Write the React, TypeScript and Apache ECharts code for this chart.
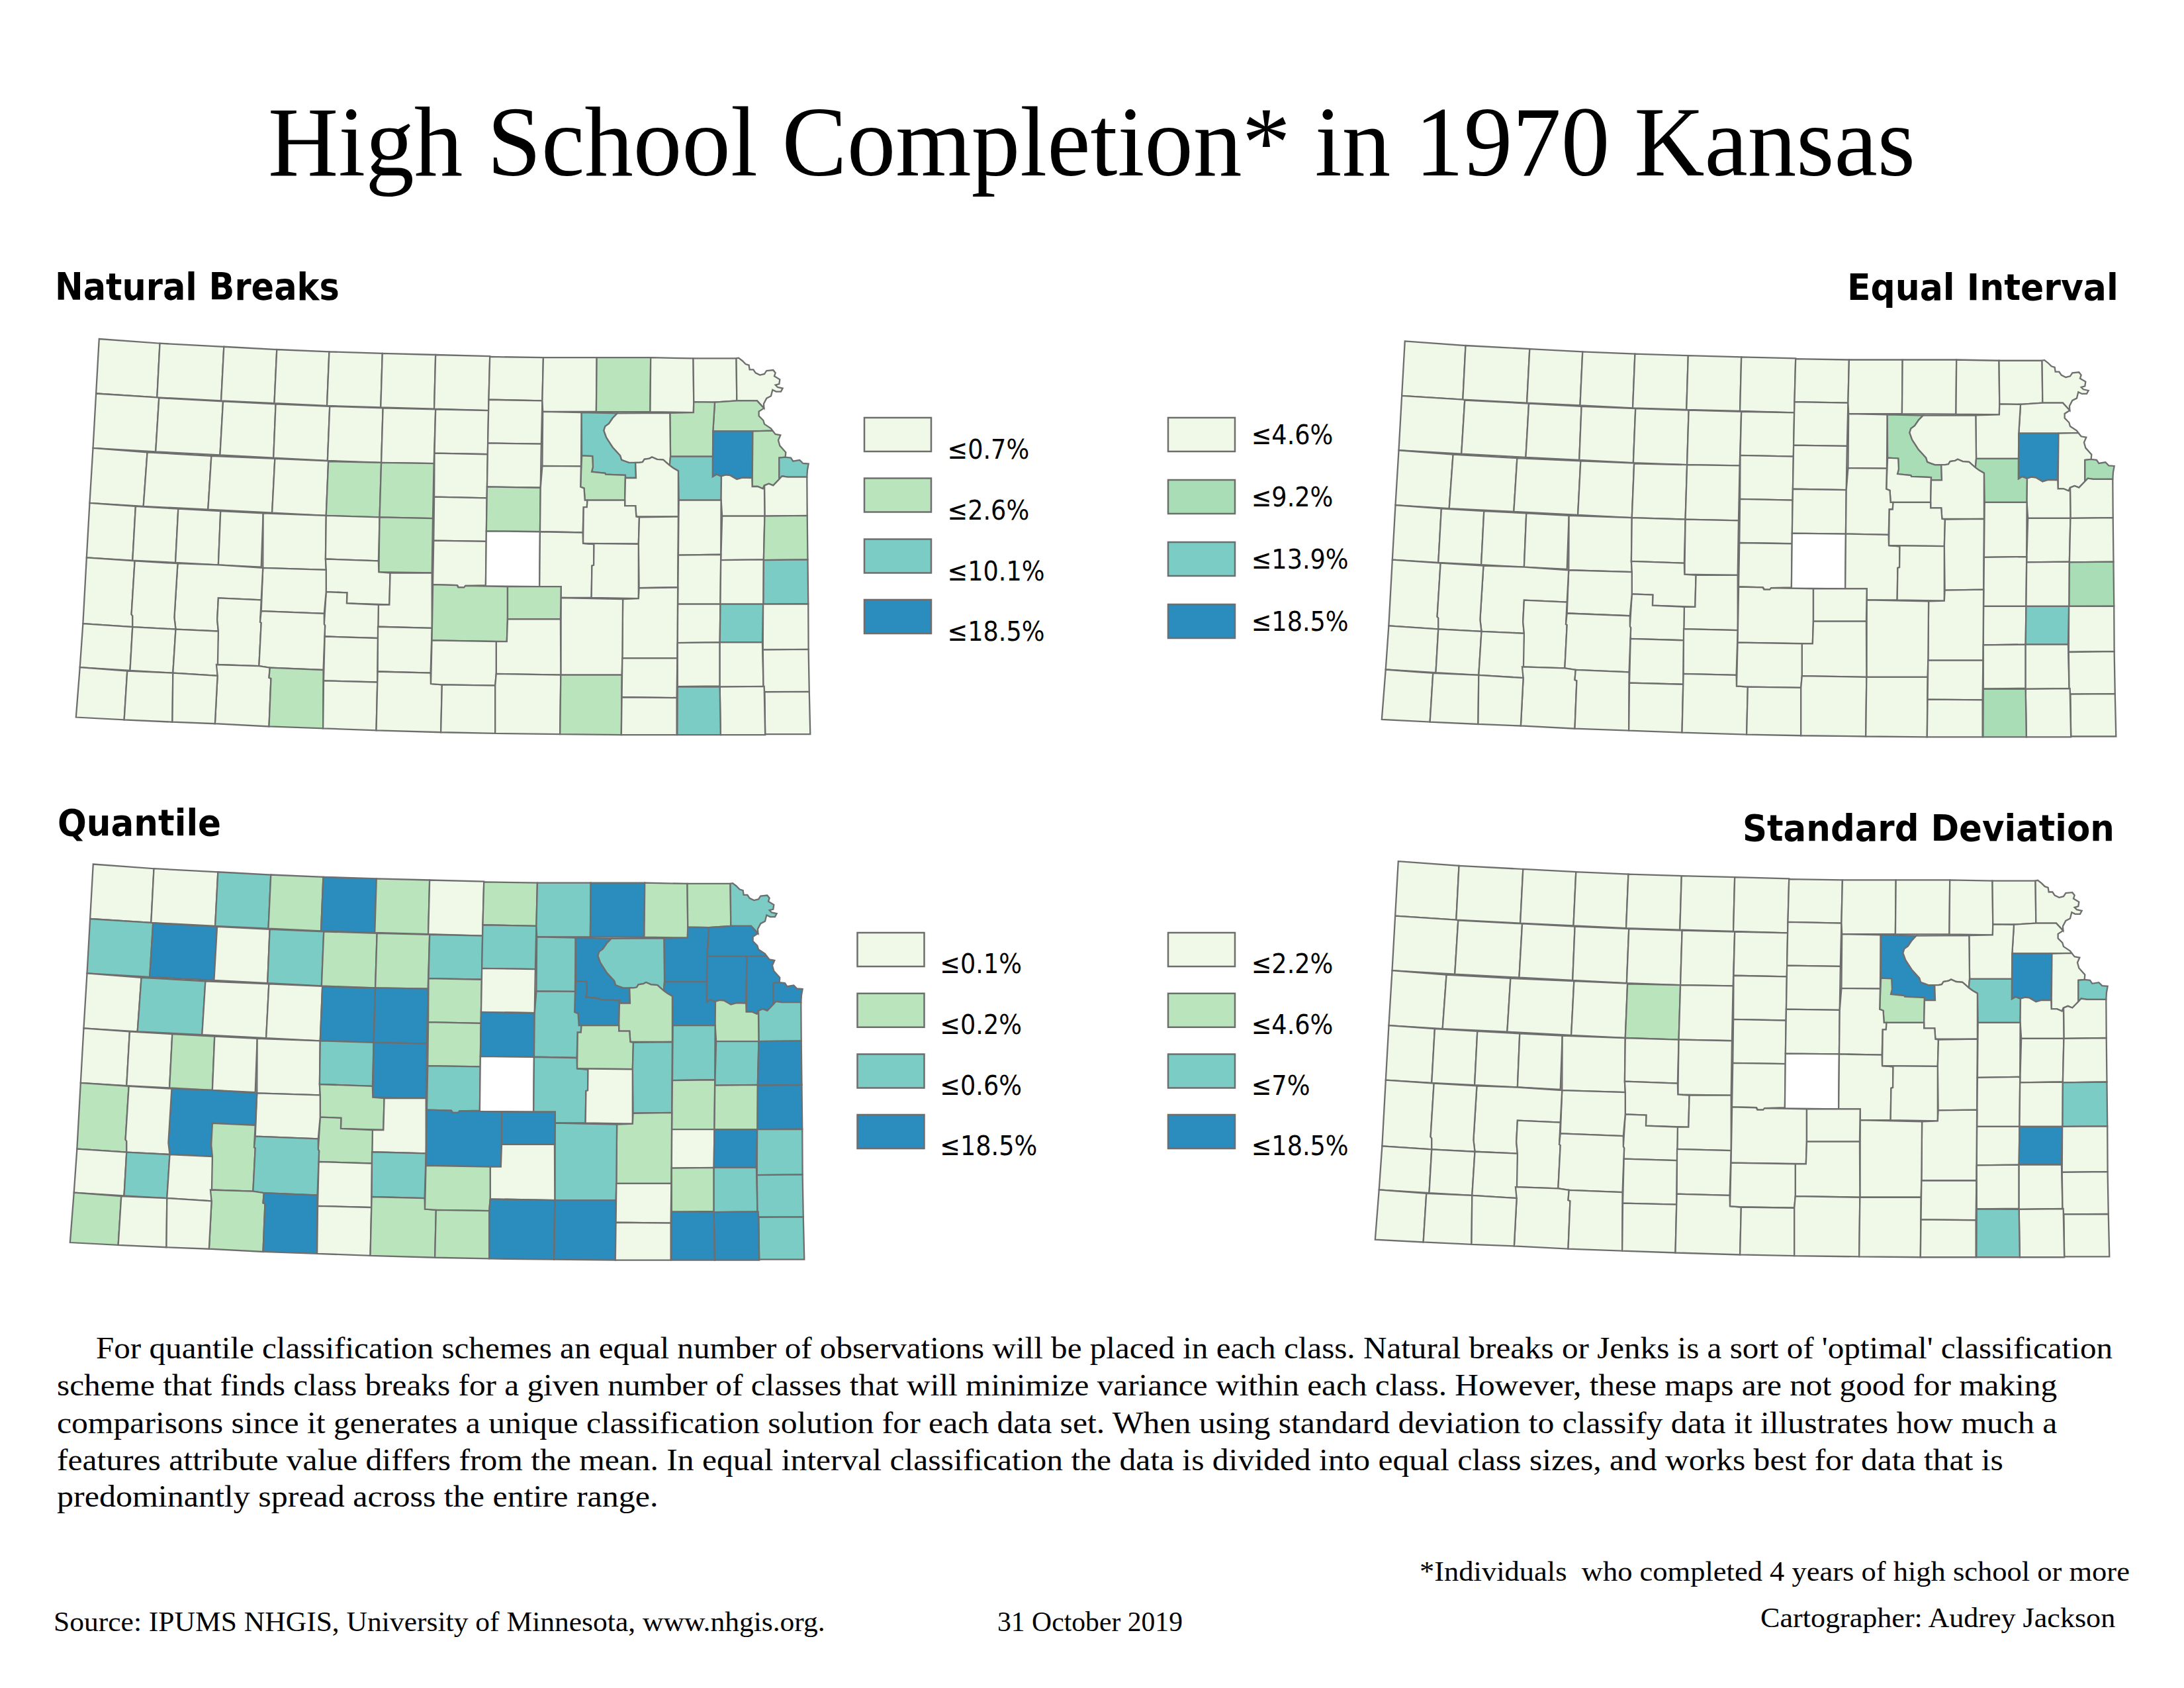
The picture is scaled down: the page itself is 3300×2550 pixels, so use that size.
import React, { useEffect, useRef } from "react";
import * as echarts from "echarts";

type P = number[];

// Palette of the four classes (ColorBrewer GnBu as used in the maps)
const classColors = ["#f0f9e8", "#bae4bc", "#7bccc4", "#2b8cbe"];
const equalIntervalColors = ["#f0f9e8", "#a8ddb5", "#7bccc4", "#2b8cbe"];

// Class membership read from each map. Any county not named is class 0; McPherson has no data.
const noData = ["McPherson"];
const naturalClass1 = ["Marshall", "Jackson", "Atchison", "Leavenworth", "Geary", "Ellis", "Russell", "Barton", "Saline", "Harvey", "Reno", "Cowley", "Clark", "Miami"];
const naturalClass2 = ["Riley", "Shawnee", "Wyandotte", "Linn", "Allen", "Montgomery"];
const naturalClass3 = ["Jefferson"];
const equalClass1 = ["Riley", "Shawnee", "Wyandotte", "Linn", "Montgomery"];
const equalClass2 = ["Allen"];
const equalClass3 = ["Jefferson"];
const stdevClass1 = ["Ellis", "Geary"];
const stdevClass2 = ["Shawnee", "Wyandotte", "Linn", "Montgomery"];
const stdevClass3 = ["Riley", "Jefferson", "Allen"];
const quantileClass1 = ["Norton", "Smith", "Rooks", "Osborne", "Lincoln", "Ellsworth", "Scott", "Pawnee", "Edwards", "Hamilton", "Gray", "Meade", "Barber", "Harper", "Morton", "Republic", "Nemaha", "Brown", "Wabaunsee", "Douglas", "Morris", "Coffey", "Anderson", "Greenwood", "Kingman", "Wilson"];
const quantileClass2 = ["Decatur", "Sherman", "Graham", "Mitchell", "Rice", "Logan", "Rush", "Ford", "Grant", "Pratt", "Washington", "Doniphan", "Cloud", "Clay", "Pottawatomie", "Johnson", "Dickinson", "Lyon", "Osage", "Franklin", "Marion", "Butler", "Bourbon", "Neosho", "Crawford", "Cherokee"];
const quantileClass3 = ["Phillips", "Thomas", "Ellis", "Russell", "Barton", "Finney", "Clark", "Marshall", "Riley", "Jackson", "Atchison", "Jefferson", "Leavenworth", "Wyandotte", "Geary", "Shawnee", "Saline", "Miami", "Linn", "Reno", "Harvey", "Sumner", "Cowley", "Allen", "Montgomery", "Labette"];

// Legend labels
const naturalLabels = ["≤0.7%", "≤2.6%", "≤10.1%", "≤18.5%"];
const equalLabels = ["≤4.6%", "≤9.2%", "≤13.9%", "≤18.5%"];
const quantileLabels = ["≤0.1%", "≤0.2%", "≤0.6%", "≤18.5%"];
const stdevLabels = ["≤2.2%", "≤4.6%", "≤7%", "≤18.5%"];

// Map geometry — western counties
const westRings: Record<string, P[]> = {
  Cheyenne: [[142,76],[360,92],[350,286],[131,272]],
  Rawlins: [[360,92],[590,104],[580,298],[350,286]],
  Decatur: [[590,104],[780,114],[771,307],[580,298]],
  Norton: [[780,114],[968,122],[960,316],[771,307]],
  Phillips: [[968,122],[1159,128],[1153,322],[960,316]],
  Smith: [[1159,128],[1350,133],[1345,327],[1153,322]],
  Jewell: [[1350,133],[1545,138],[1540,333],[1345,327]],
  Sherman: [[131,272],[350,286],[357,288],[345,481],[120,468]],
  Thomas: [[357,288],[587,300],[576,493],[345,481]],
  Sheridan: [[587,300],[776,310],[768,503],[576,493]],
  Graham: [[776,310],[970,318],[962,513],[768,503]],
  Rooks: [[970,318],[1161,324],[1155,520],[962,513]],
  Osborne: [[1161,324],[1350,329],[1344,523],[1155,520]],
  Mitchell: [[1350,329],[1540,333],[1537,490],[1346,486]],
  Lincoln: [[1346,486],[1537,490],[1534,647],[1345,643]],
  Ellsworth: [[1345,643],[1534,647],[1532,803],[1343,800]],
  Rice: [[1343,800],[1532,803],[1530,960],[1458,962],[1455,968],[1433,968],[1428,960],[1340,958]],
  Wallace: [[120,468],[315,483],[301,677],[108,665]],
  Logan: [[315,483],[545,496],[533,688],[301,677]],
  Gove: [[545,496],[773,506],[763,700],[533,688]],
  Trego: [[773,506],[965,514],[957,710],[763,700]],
  Ellis: [[965,516],[1155,520],[1149,716],[957,710]],
  Russell: [[1155,520],[1344,523],[1340,720],[1149,716]],
  Greeley: [[108,665],[273,677],[262,871],[97,861]],
  Wichita: [[273,677],[426,686],[416,879],[262,871]],
  Scott: [[426,686],[578,694],[570,887],[416,879]],
  Lane: [[578,694],[731,702],[724,895],[570,887]],
  Ness: [[731,702],[957,710],[955,866],[957,905],[730,898]],
  Rush: [[957,710],[1149,716],[1145,873],[955,866]],
  Barton: [[1149,716],[1340,720],[1337,916],[1146,913]],
  Pawnee: [[955,866],[1145,873],[1146,913],[1187,916],[1184,1030],[1031,1025],[1032,987],[957,984],[957,905]],
  Stafford: [[1187,916],[1337,916],[1337,1114],[1143,1109],[1145,1030],[1184,1030]],
  Edwards: [[957,984],[1032,987],[1031,1025],[1145,1030],[1143,1150],[952,1144],[953,1105],[950,1100]],
  Hodgeman: [[730,898],[957,905],[957,984],[950,1062],[724,1053]],
  Finney: [[424,882],[570,887],[730,898],[724,1013],[570,1006],[566,1084],[570,1125],[417,1118],[412,1076]],
  Hamilton: [[97,861],[270,873],[258,1065],[262,1070],[262,1110],[84,1098]],
  Kearny: [[270,873],[424,882],[412,1076],[417,1118],[262,1110],[262,1070],[258,1065]],
  Gray: [[570,1006],[724,1013],[720,1092],[724,1095],[716,1250],[563,1245],[570,1125],[566,1084]],
  Ford: [[724,1053],[950,1062],[950,1100],[953,1105],[947,1264],[755,1256],[716,1250],[724,1095],[720,1092]],
  Stanton: [[84,1098],[262,1110],[253,1266],[73,1255]],
  Grant: [[262,1110],[417,1118],[407,1275],[253,1266]],
  Haskell: [[417,1118],[570,1125],[567,1285],[407,1275]],
  Meade: [[563,1245],[716,1250],[755,1256],[752,1292],[759,1295],[752,1467],[558,1457],[567,1285]],
  Clark: [[755,1256],[947,1264],[946,1474],[752,1467],[759,1295],[752,1292]],
  Morton: [[73,1255],[243,1268],[232,1443],[59,1434]],
  Stevens: [[243,1268],[407,1275],[405,1451],[232,1443]],
  Seward: [[407,1275],[567,1285],[558,1457],[405,1451]],
  Kiowa: [[952,1144],[1143,1150],[1141,1308],[948,1303]],
  Comanche: [[948,1303],[1141,1308],[1137,1481],[946,1474]],
  Pratt: [[1143,1109],[1337,1114],[1332,1275],[1142,1270]],
  Barber: [[1142,1270],[1332,1275],[1333,1314],[1373,1317],[1369,1488],[1137,1481]],
};

// River boundaries shared between eastern counties
const fromCrop = ([x, y]: P) => [1019 + 0.871 * x, 95 + 0.792 * y];
const bigBlue: P[] = [[608,343],[590,360],[575,380],[560,390],[555,405],[565,430],[578,448],[590,465],[605,480],[620,495],[625,510],[640,515],[655,520],[680,520]];
const kansasRiver: P[] = [[680,520],[695,520],[708,518],[715,508],[735,505],[745,500],[765,508],[790,510],[800,518],[815,530],[830,540],[849,550]];
const jeffersonSouth: P[] = [[985,570],[1000,562],[1019,569],[1036,564],[1054,566],[1080,580],[1102,574],[1140,575]];
const leavenworthSouthA: P[] = [[140,645],[165,645],[188,655],[195,640]].map(fromCrop);
const leavenworthSouthB: P[] = [[195,640],[215,632],[235,640],[262,612]].map(fromCrop);
const wyandotteSouth: P[] = [[262,612],[275,598],[300,602],[388,602]].map(fromCrop);
const missouriDoniphan: P[] = [[78,62],[95,75],[110,90],[125,95],[128,115],[145,115],[155,130],[175,140],[195,135],[205,120],[235,117],[245,130],[240,145],[265,160],[262,180],[245,185],[255,195],[278,200],[270,215],[248,215],[232,207],[225,235],[205,245],[192,270],[193,290]].map(fromCrop);
const missouriAtchison: P[] = [[193,290],[170,305],[170,325],[190,345],[195,362],[225,382],[232,392]].map(fromCrop);
const missouriLeavenworth: P[] = [[232,392],[245,408],[268,412],[258,435],[265,460],[292,490],[290,512]].map(fromCrop);
const missouriWyandotte: P[] = [[290,512],[315,515],[325,530],[355,525],[370,540],[395,542],[390,570],[388,602]].map(fromCrop);
const wyandotteCorner: P = fromCrop([262, 515]);
const rev = (a: P[]) => [...a].reverse();

// Map geometry — eastern counties
const eastRings: Record<string, P[]> = {
  Republic: [[105,140],[316,143],[312,298],[100.5,294]],
  Cloud: [[100.5,294],[312,298],[308,453],[97,450]],
  Ottawa: [[97,450],[308,453],[305,610],[94,607]],
  Saline: [[94,607],[305,610],[303,768],[91,766]],
  McPherson: [[91,766],[303,768],[301,965],[88.5,963]],
  Washington: [[316,143],[527,143],[525,337],[314,337],[312,298]],
  Marshall: [[527,143],[740,143],[738,338],[525,337]],
  Nemaha: [[740,143],[908,146],[910,302],[909,340],[738,338]],
  Brown: [[908,146],[1078,146],[1080,298],[993,303],[910,302]],
  Doniphan: [[1078,146],...missouriDoniphan,[1160,298],[1080,298]],
  Atchison: [[993,303],[1080,298],[1160,298],...missouriAtchison,[1143,407],[986,407]],
  Jackson: [[910,302],[993,303],[986,407],[985,498],[818,498],[816,342],[909,340]],
  Clay: [[314,337],[467,340],[465,533],[312,532]],
  Riley: [[467,340],...bigBlue,[682,575],[640,575],[640,565],[562,562],[560,558],[507,553],[512,535],[510,497],[468,495]],
  Pottawatomie: [[608,343],[816,342],[818,498],[815,530],[800,518],[790,510],[765,508],[745,500],[735,505],[715,508],[708,518],[695,520],...rev(bigBlue).slice(0,-1)],
  Shawnee: [[818,498],[985,498],...jeffersonSouth.slice(0,3),[1018,655],[851,655],[849,550],[830,540],[815,530]],
  Jefferson: [[986,407],[1143,407],[1140,575],...rev(jeffersonSouth)],
  Leavenworth: [[1143,407],...missouriLeavenworth,wyandotteCorner,...rev(leavenworthSouthB),...rev(leavenworthSouthA)],
  Wyandotte: [wyandotteCorner,...missouriWyandotte,...rev(wyandotteSouth).slice(1)],
  Johnson: [...leavenworthSouthB,...wyandotteSouth.slice(1),[1358,710],[1190,712]],
  Douglas: [...jeffersonSouth.slice(2),...leavenworthSouthA,[1190,712],[1022,712],[1018,655]],
  Geary: [[468,495],[510,497],[512,535],[507,553],[560,558],[562,562],[640,565],[638,655],[480,655],[477,612],[463,607]],
  Wabaunsee: [...kansasRiver,[849,714],[683,714],[680,675],[638,675],[638,655],[640,575],[682,575]],
  Dickinson: [[312,532],[465,533],[463,607],[477,612],[480,655],[490,655],[488,680],[475,680],[472,771],[303,768],[305,610]],
  Morris: [[490,655],[638,655],[638,675],[680,675],[683,714],[695,716],[692,812],[473,810],[475,680],[488,680]],
  Lyon: [[695,716],[849,714],[847,968],[694,970],[692,812]],
  Osage: [[851,655],[1018,655],[1017,850],[849,852]],
  Franklin: [[1022,712],[1190,712],[1186,868],[1017,870]],
  Miami: [[1190,712],[1358,710],[1360,868],[1186,870]],
  Coffey: [[849,852],[1017,850],[1015,1028],[847,1028]],
  Anderson: [[1017,870],[1186,868],[1185,1028],[1015,1028]],
  Linn: [[1186,870],[1360,868],[1362,1027],[1185,1028]],
  Woodson: [[847,1028],[1015,1028],[1013,1165],[846,1167]],
  Allen: [[1015,1028],[1184,1028],[1181,1165],[1013,1165]],
  Bourbon: [[1184,1028],[1362,1027],[1363,1190],[1183,1192]],
  Marion: [[303,768],[472,771],[473,810],[516,813],[515,888],[508,890],[506,1005],[386,1005],[386,965],[301,965]],
  Chase: [[473,810],[692,812],[692,1008],[506,1005],[508,890],[515,888],[516,813]],
  Greenwood: [[694,970],[847,968],[845,1222],[628,1222],[630,1010],[692,1008]],
  Butler: [[386,1005],[630,1010],[628,1222],[626,1282],[385,1282]],
  Reno: [[-120,958],[-25,960],[-20,968],[3,968],[8,962],[175,965],[175,1082],[172,1162],[-124,1158]],
  Harvey: [[175,965],[386,965],[384,1082],[175,1082]],
  Sedgwick: [[175,1082],[384,1082],[385,1282],[130,1278],[130,1162],[172,1162]],
  Kingman: [[-124,1158],[130,1162],[130,1278],[126,1320],[-84,1317],[-128,1314]],
  Harper: [[-84,1317],[126,1320],[126,1492],[-88.5,1488]],
  Sumner: [[130,1278],[385,1282],[382,1495],[126,1492],[126,1320]],
  Cowley: [[385,1282],[626,1282],[624,1497],[382,1495]],
  Elk: [[628,1222],[845,1222],[843,1364],[626,1362]],
  Chautauqua: [[626,1362],[843,1364],[843,1497],[624,1497]],
  Wilson: [[846,1167],[1013,1165],[1013,1322],[846,1324]],
  Neosho: [[1013,1165],[1181,1165],[1185,1323],[1013,1325]],
  Crawford: [[1183,1192],[1363,1190],[1366,1342],[1190,1343],[1185,1323]],
  Cherokee: [[1190,1343],[1366,1342],[1370,1495],[1192,1495]],
  Labette: [[1013,1325],[1188,1323],[1192,1497],[1016,1497]],
  Montgomery: [[846,1324],[1013,1325],[1016,1497],[845,1497]],
};

const fromWest = ([x, y]: P) => [90 + x / 2.376, 480 + y / 2.376];
const fromEast = ([x, y]: P) => [700 + x / 2.613, 480 + y / 2.376];

const feature = (name: string, ring: P[]) => ({
  type: "Feature",
  properties: { name },
  geometry: { type: "Polygon", coordinates: [[...ring, ring[0]]] },
});

const features = [
  ...Object.entries(westRings).map(([n, r]) => feature(n, r.map(fromWest))),
  ...Object.entries(eastRings).map(([n, r]) => feature(n, r.map(fromEast))),
];
const geoJson = { type: "FeatureCollection", features };
const allPts = features.flatMap((f) => f.geometry.coordinates[0]);
const minX = Math.min(...allPts.map((p) => p[0]));
const maxX = Math.max(...allPts.map((p) => p[0]));
const minY = Math.min(...allPts.map((p) => p[1]));
const maxY = Math.max(...allPts.map((p) => p[1]));

const STROKE = "#6e6e6e";
const identity = { project: (p: P) => p, unproject: (p: P) => p };

function mapSeries(id: string, dx: number, dy: number, groups: string[][], colors: string[]) {
  const mapName = "kansas-" + id;
  echarts.registerMap(mapName, geoJson as any);
  const data = features.map((f) => {
    const name = f.properties.name;
    if (noData.includes(name)) return { name, value: NaN, itemStyle: { areaColor: "#ffffff" } };
    let cls = 0;
    groups.forEach((g, i) => {
      if (g.includes(name)) cls = i + 1;
    });
    return { name, value: cls, itemStyle: { areaColor: colors[cls] } };
  });
  return {
    type: "map",
    map: mapName,
    projection: identity,
    left: minX + dx,
    top: minY + dy,
    width: maxX - minX,
    height: maxY - minY,
    roam: false,
    silent: true,
    showLegendSymbol: false,
    label: { show: false },
    emphasis: { disabled: true },
    select: { disabled: true },
    itemStyle: { borderColor: STROKE, borderWidth: 2.3, areaColor: "#ffffff" },
    data,
  };
}

const SERIF = "Liberation Serif";
const SANS = "DejaVu Sans";
const measureCtx = document.createElement("canvas").getContext("2d")!;
function textWidth(t: string, size: number, family: string, weight: string) {
  measureCtx.font = `${weight} ${size}px "${family}"`;
  return measureCtx.measureText(t).width;
}

// x = left edge, base = baseline y, w = width to fit to
function label(t: string, x: number, base: number, w: number, size: number, family = SERIF, weight = "normal") {
  const central = family === SERIF ? 0.82 : 0.86;
  return {
    type: "text",
    x,
    y: base - central * size,
    scaleX: w / textWidth(t, size, family, weight),
    silent: true,
    style: { text: t, fontSize: size, fontFamily: family, fontWeight: weight, fill: "#000", textAlign: "left", textBaseline: "middle" },
  };
}

const LEGEND_SIZE = 41;
function legend(labels: string[], colors: string[], sx: number, ys: number[], lx: number, lys: number[]) {
  const scale = 147 / textWidth("≤18.5%", LEGEND_SIZE, SANS, "normal");
  const out: any[] = [];
  labels.forEach((t, i) => {
    out.push({
      type: "rect",
      silent: true,
      shape: { x: sx, y: ys[i], width: 101, height: 51 },
      style: { fill: colors[i], stroke: STROKE, lineWidth: 2.5 },
    });
    out.push(label(t, lx, lys[i], textWidth(t, LEGEND_SIZE, SANS, "normal") * scale, LEGEND_SIZE, SANS));
  });
  return out;
}

const bodyLines = [
  "For quantile classification schemes an equal number of observations will be placed in each class. Natural breaks or Jenks is a sort of 'optimal' classification",
  "scheme that finds class breaks for a given number of classes that will minimize variance within each class. However, these maps are not good for making",
  "comparisons since it generates a unique classification solution for each data set. When using standard deviation to classify data it illustrates how much a",
  "features attribute value differs from the mean. In equal interval classification the data is divided into equal class sizes, and works best for data that is",
  "predominantly spread across the entire range.",
];

function buildOption() {
  const ys1 = [631, 722.5, 814.5, 906];
  const ys2 = [631, 725, 819, 913];
  const ys3 = [1409, 1500.7, 1592.4, 1684];
  const graphic: any[] = [
    label("High School Completion* in 1970 Kansas", 405, 263, 2489, 150),
    label("Natural Breaks", 83, 453.5, 430, 56, SANS, "bold"),
    label("Equal Interval", 2791, 453.5, 410, 56, SANS, "bold"),
    label("Quantile", 87, 1263, 247, 56, SANS, "bold"),
    label("Standard Deviation", 2633, 1271, 562, 56, SANS, "bold"),
    ...legend(naturalLabels, classColors, 1306, ys1, 1431.5, ys1.map((y) => y + 63)),
    ...legend(equalLabels, equalIntervalColors, 1765, ys2, 1890.7, ys2.map((y) => y + 41)),
    ...legend(quantileLabels, classColors, 1295.5, ys3, 1420.3, ys3.map((y) => y + 62)),
    ...legend(stdevLabels, classColors, 1765, ys3, 1890.7, ys3.map((y) => y + 62)),
    label(bodyLines[0], 145, 2051.7, 3047, 46),
    label(bodyLines[1], 86, 2107.5, 3024, 46),
    label(bodyLines[2], 86, 2163.5, 3025, 46),
    label(bodyLines[3], 86, 2219.5, 2943, 46),
    label(bodyLines[4], 86, 2275, 909, 46),
    label("*Individuals  who completed 4 years of high school or more", 2145, 2387, 1073, 42),
    label("Source: IPUMS NHGIS, University of Minnesota, www.nhgis.org.", 81, 2463, 1166, 42),
    label("31 October 2019", 1507, 2463, 280, 42),
    label("Cartographer: Audrey Jackson", 2660, 2457, 539, 42),
  ];
  return {
    animation: false,
    backgroundColor: "#ffffff",
    series: [
      mapSeries("natural", 0, 0, [naturalClass1, naturalClass2, naturalClass3], classColors),
      mapSeries("equal", 1973, 3.3, [equalClass1, equalClass2, equalClass3], equalIntervalColors),
      mapSeries("quantile", -9, 793.5, [quantileClass1, quantileClass2, quantileClass3], classColors),
      mapSeries("stdev", 1963, 789.2, [stdevClass1, stdevClass2, stdevClass3], classColors),
    ],
    graphic: { elements: graphic },
  };
}

export default function App() {
  const ref = useRef<HTMLDivElement>(null);
  useEffect(() => {
    const chart = echarts.init(ref.current!, undefined, { renderer: "svg" });
    chart.setOption(buildOption() as any);
    return () => chart.dispose();
  }, []);
  return <div ref={ref} style={{ position: "absolute", left: 0, top: 0, width: 3300, height: 2550 }} />;
}
